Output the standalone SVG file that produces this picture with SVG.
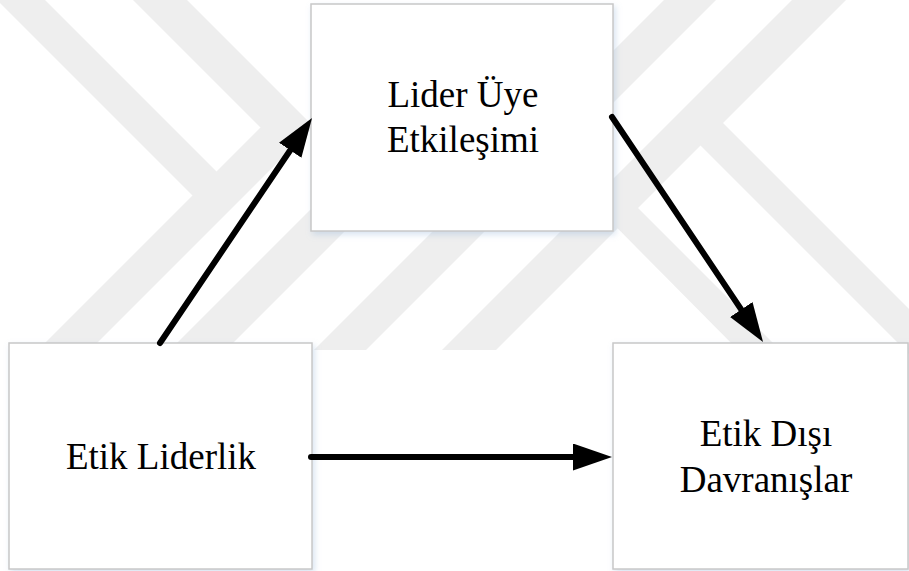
<svg xmlns="http://www.w3.org/2000/svg" width="909" height="571" viewBox="0 0 909 571">
  <defs>
    <style>
      .band { fill: #eeeeee; }
      .box { fill: #ffffff; stroke: #c8c8c8; stroke-width: 1.5; filter: url(#soft); }
      .label { font-family: "Liberation Serif", "Times New Roman", serif; font-size: 37px; fill: #000000; text-anchor: middle; }
      .link { fill: none; stroke: #000000; stroke-width: 6; stroke-linecap: round; marker-end: url(#head); }
    </style>
    <filter id="soft" x="-5%" y="-5%" width="112%" height="115%">
      <feDropShadow dx="2" dy="3" stdDeviation="3" flood-color="#8fb0d6" flood-opacity="0.35"/>
    </filter>
    <marker id="head" viewBox="0 0 39 27" markerWidth="39" markerHeight="27" refX="0" refY="13.5" orient="auto" markerUnits="userSpaceOnUse">
      <path d="M0,0 L39,13.5 L0,27 Z" fill="#000000"/>
    </marker>
  </defs>

  <rect x="0" y="0" width="909" height="571" fill="#ffffff"/>

  <!-- background stripe pattern -->
  <g id="watermark">
    <polygon class="band" points="45,0 232.5,187.5 208.5,211.5 -3,0"/>
    <polygon class="band" points="187,0 313.5,126.5 286.5,153.5 133,0"/>
    <polygon class="band" points="38,350 260.5,127.5 313.5,126.5 90,350"/>
    <polygon class="band" points="170,350 370,150 426,150 226,350"/>
    <polygon class="band" points="664,0 716,0 366,350 314,350"/>
    <polygon class="band" points="792,0 846,0 496,350 442,350"/>
    <polygon class="band" points="708,108 920,320 920,365 685.5,130.5"/>
    <polygon class="band" points="560,130 782,352 740,352 540,150"/>
  </g>

  <g id="node-lmx">
    <rect class="box" x="311" y="4" width="302" height="227"/>
    <text class="label" x="463" y="107">Lider Üye</text>
    <text class="label" x="463" y="152">Etkileşimi</text>
  </g>

  <g id="node-ethical-leadership">
    <rect class="box" x="9" y="343" width="303" height="226"/>
    <text class="label" x="161" y="469">Etik Liderlik</text>
  </g>

  <g id="node-unethical-behaviour">
    <rect class="box" x="613" y="343" width="295" height="226"/>
    <text class="label" x="766" y="446">Etik Dışı</text>
    <text class="label" x="766" y="492">Davranışlar</text>
  </g>

  <g id="connectors">
    <path class="link" d="M160,343 L290.2,150.3"/>
    <path class="link" d="M612,117 L741.3,309.6"/>
    <path class="link" d="M311,457 L573,457"/>
  </g>
</svg>
